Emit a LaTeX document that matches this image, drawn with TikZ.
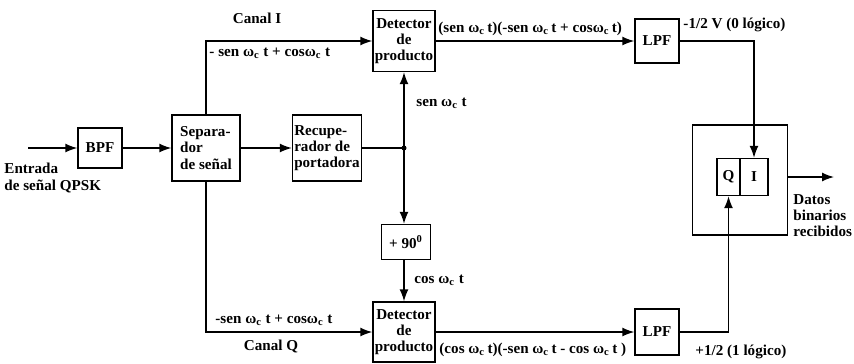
\documentclass[tikz,border=0pt]{standalone}
\usepackage{fontspec}
\setmainfont{Liberation Serif}
\usepackage{tikz}
\usetikzlibrary{arrows.meta, positioning}
\newcommand{\wc}{ω\textsubscript{c}}

\begin{document}
\begin{tikzpicture}[
      x=0.02cm, y=-0.02cm,
      font=\fontsize{8.6}{9.2}\selectfont\bfseries,
      line width=0.8pt,
      >={Latex[length=2.4mm,width=1.8mm]},
      blk/.style={draw, align=center, inner sep=1pt},
      lbl/.style={inner sep=1pt, align=left}
    ]
      \useasboundingbox (0,0) rectangle (854,363);

      % bloques
      \node[blk, minimum width=0.88cm, minimum height=0.8cm] (bpf) at (100,148) {BPF};
      \node[blk, align=left, minimum width=1.36cm, minimum height=1.32cm] (sep) at (206,148) {Separa-\\dor\\de señal};
      \node[blk, align=left, minimum width=1.32cm, minimum height=1.32cm] (rec) at (327,148) {Recupe-\\rador de\\portadora};
      \node[blk, minimum width=1.24cm, minimum height=1.22cm] (detI) at (404,41) {Detector\\de\\producto};
      \node[blk, minimum width=1.24cm, minimum height=1.2cm] (detQ) at (404,332) {Detector\\de\\producto};
      \node[blk, minimum width=0.98cm, minimum height=0.7cm] (pn) at (406,242) {+ 90\textsuperscript{0}};
      \node[blk, minimum width=0.88cm, minimum height=0.88cm] (lpfI) at (657,41) {LPF};
      \node[blk, minimum width=0.88cm, minimum height=0.92cm] (lpfQ) at (657,332) {LPF};
      \node[blk, minimum width=1.9cm, minimum height=2.2cm] (outer) at (740,180) {};
      \node[blk, minimum width=0.46cm, minimum height=0.74cm] (qcell) at (728.5,177) {Q};
      \node[blk, minimum width=0.56cm, minimum height=0.74cm] (icell) at (754,177) {I};

      \coordinate (in) at (28,148);
      \coordinate (jn) at (404,148);
      \coordinate (out) at (834,177);

      % conexiones
      \draw[->] (in) -- (bpf);
      \draw[->] (bpf) -- (sep);
      \draw[->] (sep) -- (rec);
      \draw[->] (sep.north) |- (detI.west);
      \draw[->] (sep.south) |- (detQ.west);
      \draw (rec.east) -- (jn);
      \fill (jn) circle (2.5);
      \draw[->] (jn) -- (detI.south);
      \draw[->] (jn) -- (jn |- pn.north);
      \draw[->] (jn |- pn.south) -- (detQ.north);
      \draw[->] (detI.east) -- (lpfI.west);
      \draw[->] (detQ.east) -- (lpfQ.west);
      \draw[->] (lpfI.east) -| (icell.north);
      \draw[->] (lpfQ.east) -| (qcell.south);
      \draw[->] (outer.east |- out) -- (out);

      % etiquetas
      \node[lbl, anchor=north west] (ent) at (2,161) {Entrada\\de señal QPSK};
      \node[lbl] (cI) at (257,18) {Canal I};
      \node[lbl, anchor=west] (sI) at (207,53) {- sen \wc\ t + cos\wc\ t};
      \node[lbl, anchor=west] (pI) at (436,29) {(sen \wc\,t)(-sen \wc\,t + cos\wc\,t)};
      \node[lbl, anchor=west] (vI) at (681,25) {-1/2 V (0 lógico)};
      \node[lbl, anchor=west] (ls) at (414,103) {sen \wc\ t};
      \node[lbl, anchor=west] (lc) at (412,280) {cos \wc\ t};
      \node[lbl, anchor=west] (sQ) at (213,320) {-sen \wc\ t + cos\wc\ t};
      \node[lbl] (cQ) at (271,346) {Canal Q};
      \node[lbl, anchor=west] (pQ) at (437,350) {(cos \wc\,t)(-sen \wc\,t - cos \wc\,t )};
      \node[lbl, anchor=west] (vQ) at (693,352) {+1/2 (1 lógico)};
      \node[lbl, anchor=north west] (dat) at (791,192) {Datos\\binarios\\recibidos};
    \end{tikzpicture}
\end{document}
